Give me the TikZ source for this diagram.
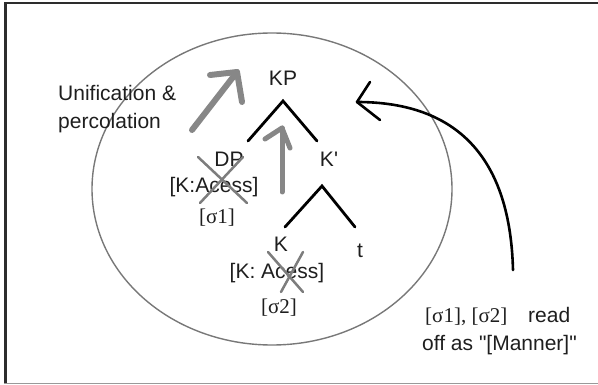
\documentclass[tikz,border=0pt]{standalone}
\usepackage{fontspec}
\usetikzlibrary{shapes.geometric}
\setmainfont{Liberation Sans}
\newfontfamily\serifont{Liberation Serif}
\definecolor{inkc}{RGB}{30,30,30}
\definecolor{arrowgray}{RGB}{135,135,135}
\definecolor{ellgray}{RGB}{120,120,120}
\definecolor{crossgray}{RGB}{125,125,125}
\definecolor{framec}{RGB}{45,45,45}
\begin{document}
\begin{tikzpicture}[x=1pt,y=-1pt,
  lbl/.style={inner sep=0pt,text=inkc,font=\fontsize{21}{25}\selectfont},
  slbl/.style={inner sep=0pt,text=inkc,font=\serifont\fontsize{21}{25}\selectfont},
  branch/.style={line width=2.8pt,black,line cap=round,line join=miter},
  garrow/.style={line width=#1,arrowgray,line cap=round,line join=round},
  cross/.style={line width=2.5pt,crossgray,line cap=round},
  curvearrow/.style={line width=2.6pt,black,line cap=round,line join=round}]
\useasboundingbox (0,0) rectangle (598,385);
% frame
\draw[framec,line width=2.5pt] (4,3) -- (598,3);
\draw[framec,line width=3pt] (5.5,3) -- (5.5,383);
\draw[black!40,line width=1.5pt] (4,383.5) -- (598,383.5);
% ellipse
\node[draw=ellgray,line width=1.4pt,ellipse,minimum width=360pt,minimum height=312pt,inner sep=0pt] (circ) at (272,189) {};
% texts
\node[lbl,anchor=base west] (unif) at (58,101) {Unification \&};
\node[lbl,anchor=base west] (perc) at (58,129) {percolation};
\node[lbl,anchor=base] (KP) at (283,86) {KP};
\node[lbl,anchor=base] (DP) at (229,167) {DP};
\node[lbl,anchor=base] (Kbar) at (329,167) {K\textquotesingle};
\node[lbl,anchor=base] (feat1) at (214,193) {[K:Acess]};
\node[slbl,anchor=base] (sig1) at (217,224) {[σ1]};
\node[lbl,anchor=base] (K) at (281,252) {K};
\node[lbl,anchor=base] (feat2) at (277,279) {[K: Acess]};
\node[slbl,anchor=base] (sig2) at (279,313) {[σ2]};
\node[lbl,anchor=base] (t) at (360,258) {t};
\node[slbl,anchor=base west] (sigs) at (425,323) {[σ1], [σ2]};
\node[lbl,anchor=base west] (read) at (528,323) {read};
\node[lbl,anchor=base west] (off) at (422,351) {off as \textquotedbl[Manner]\textquotedbl};
% tree branches
\coordinate (kpapex) at (283,101);
\coordinate (kpl) at (248,141);
\coordinate (kpr) at (317,141);
\coordinate (kbapex) at (322,186);
\coordinate (kbl) at (285,227);
\coordinate (kbr) at (355,227);
\draw[branch] (kpl) -- (kpapex) -- (kpr);
\draw[branch] (kbl) -- (kbapex) -- (kbr);
% crosses
\draw[cross] (198,157) -- (247,203);
\draw[cross] (243,157) -- (200,203);
\draw[cross] (268,252) -- (303,292);
\draw[cross] (303,252) -- (281,292);
% gray arrows
\coordinate (a1s) at (192,130);
\coordinate (a1t) at (237,72);
\coordinate (a1l) at (210,75);
\coordinate (a1r) at (242,102);
\draw[garrow=6pt] (a1s) -- (a1t);
\draw[garrow=6pt] (a1l) -- (a1t) -- (a1r);
\coordinate (a2s) at (282,192);
\coordinate (a2t) at (282,128);
\coordinate (a2l) at (265,139);
\coordinate (a2r) at (290,148);
\draw[garrow=5pt] (a2s) -- (a2t);
\draw[garrow=5pt] (a2l) -- (a2t) -- (a2r);
% black curved arrow
\coordinate (cs) at (513,270);
\coordinate (ct) at (357,102);
\coordinate (cl) at (370,82);
\coordinate (cr) at (380,120);
\draw[curvearrow] (cs) .. controls (510,150) and (450,102) .. (ct);
\draw[curvearrow] (cl) -- (ct) -- (cr);
\end{tikzpicture}
\end{document}
